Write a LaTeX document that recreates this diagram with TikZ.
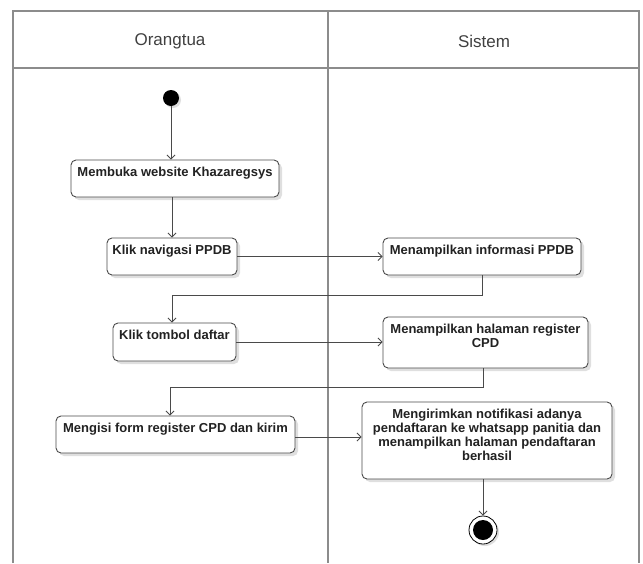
\documentclass[tikz,border=0pt]{standalone}
\usepackage{fontspec}
\setmainfont{Liberation Sans}
\usetikzlibrary{arrows.meta,shadows}
\definecolor{lanegray}{HTML}{8C8C8C}
\definecolor{edgegray}{HTML}{4A4A4A}
\definecolor{inkgray}{HTML}{222222}
\begin{document}
\begin{tikzpicture}[
    x=1pt, y=-1pt,
    lane/.style={draw=lanegray, line width=1.6pt},
    head/.style={font=\fontsize{17}{20}\selectfont, text=black!75},
    act/.style={draw=edgegray, line width=0.9pt, fill=white, rounded corners=5pt,
      font=\fontsize{13}{14}\selectfont\bfseries, text=inkgray, align=center,
      inner xsep=2pt, inner ysep=0pt, text height=16pt,
      drop shadow={shadow xshift=3pt, shadow yshift=-3pt, fill=black!25}},
    flow/.style={draw=edgegray, line width=0.9pt, -{Straight Barb[length=4pt,width=8pt]}},
    startdot/.style={circle, fill=black, minimum size=16pt, inner sep=0pt,
      drop shadow={shadow xshift=2pt, shadow yshift=-2pt, fill=black!25}},
  ]
  \useasboundingbox (0,0) rectangle (643,563);

  % ---- swimlanes ----
  \draw[lane] (13,563) -- (13,11) -- (639,11) -- (639,563);
  \draw[lane] (13,68) -- (639,68);
  \draw[lane] (328,11) -- (328,563);
  \node[head] (orangtua) at (170,41) {Orangtua};
  \node[head] (sistem) at (484,41) {Sistem};

  % ---- kolom orangtua ----
  \node[startdot] (start) at (171,98) {};
  \node[act, minimum width=208pt, text depth=21pt] (web) at (175,178.5) {Membuka website Khazaregsys};
  \node[act, minimum width=130pt, text depth=21pt] (nav) at (172,256.5) {Klik navigasi PPDB};
  \node[act, minimum width=123pt, text depth=22pt] (daftar) at (174.5,342) {Klik tombol daftar};
  \node[act, minimum width=239pt, text depth=21pt] (form) at (175.5,434.5) {Mengisi form register CPD dan kirim};

  % ---- kolom sistem ----
  \node[act, minimum width=198pt, text depth=21pt] (info) at (482,256.5) {Menampilkan informasi PPDB};
  \node[act, minimum width=205pt, text height=30pt, text depth=21pt] (reg) at (485.5,342.5)
    {Menampilkan halaman register\\CPD};
  \node[act, minimum width=250pt, text height=58pt, text depth=19pt] (notif) at (487,440.5)
    {Mengirimkan notifikasi adanya\\pendaftaran ke whatsapp panitia dan\\menampilkan halaman pendaftaran\\berhasil};
  \node[circle, draw=black, line width=0.8pt, fill=white, minimum size=28pt, inner sep=0pt,
    drop shadow={shadow xshift=2pt, shadow yshift=-2pt, fill=black!25}] (finish) at (483,530) {};
  \node[circle, fill=black, minimum size=20pt, inner sep=0pt] (finishdot) at (finish) {};

  % ---- alur ----
  \draw[flow] (start) -- (web.north -| start);
  \draw[flow] (web.south -| nav) -- (nav.north);
  \draw[flow] (nav.east) -- (info.west);
  \draw[flow] (info.south) -- ++(0,20) -| ([xshift=-2.5pt]daftar.north);
  \draw[flow] (daftar.east) -- (daftar.east -| reg.west);
  \draw[flow] ([xshift=-2.5pt]reg.south) -- ++(0,19) -| ([xshift=-5.5pt]form.north);
  \draw[flow] ([yshift=-2.5pt]form.east) -- ([yshift=-2.5pt]form.east -| notif.west);
  \draw[flow] (notif.south -| finish) -- (finish.north);
\end{tikzpicture}
\end{document}
